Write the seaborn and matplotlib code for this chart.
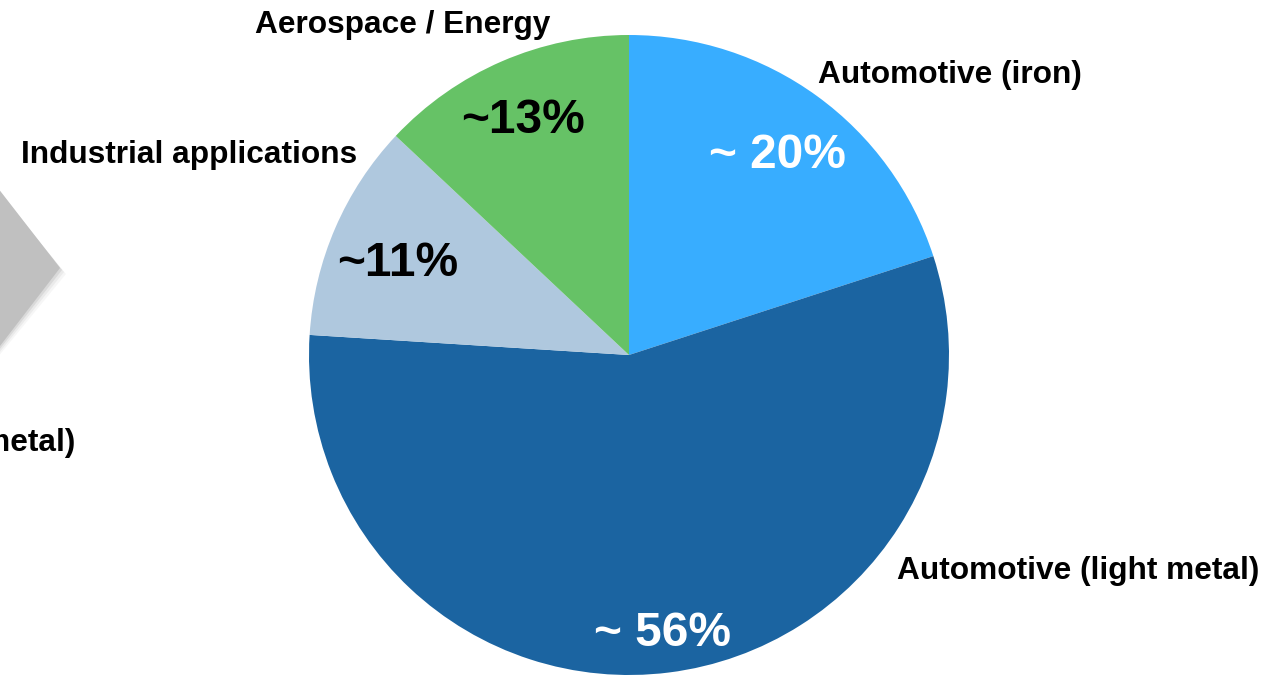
import matplotlib
matplotlib.use("Agg")
import matplotlib.pyplot as plt
import seaborn as sns
from matplotlib.patches import Polygon

sns.set_style("white")
plt.rcParams['font.family'] = ['Liberation Sans', 'DejaVu Sans']

categories = ["Automotive (iron)", "Automotive (light metal)", "Industrial applications", "Aerospace / Energy"]
values = [20, 56, 11, 13]
pct_labels = ["~ 20%", "~ 56%", "~11%", "~13%"]
colors = sns.color_palette(["#38ADFF", "#1B64A1", "#AFC8DE", "#66C266"])
pct_colors = ["white", "white", "black", "black"]

W, H = 1262, 675
fig = plt.figure(figsize=(W / 100, H / 100), dpi=100)
fig.patch.set_facecolor("white")

# pie axes: center (629,355) radius 320 px
cx, cy, r = 629, 355, 320
ax = fig.add_axes([(cx - r) / W, (H - cy - r) / H, 2 * r / W, 2 * r / H])
ax.pie(values, colors=colors, startangle=90, counterclock=False,
       wedgeprops=dict(linewidth=0), radius=1)
ax.set_xlim(-1, 1)
ax.set_ylim(-1, 1)
ax.set_aspect("equal")
ax.axis("off")

# overlay axes in pixel coordinates
ov = fig.add_axes([0, 0, 1, 1], zorder=5)
ov.set_xlim(0, W)
ov.set_ylim(H, 0)
ov.axis("off")
ov.patch.set_alpha(0)

# gray diamond (partially cropped at left edge)
for k, a in [(6, 0.05), (4, 0.08), (2, 0.12)]:
    ov.add_patch(Polygon([(-30, 152 + k), (60 + k, 268 + k), (-30, 385 + k)],
                         closed=True, facecolor="#606060", edgecolor="none", alpha=a))
ov.add_patch(Polygon([(-30, 152), (60, 268), (-30, 385)], closed=True,
                     facecolor="#C0C0C0", edgecolor="none"))

# category labels
label_pos = [(950, 83.5, "center"), (1078, 578.5, "center"),
             (189, 162.5, "center"), (403, 33, "center")]
for name, (x, y, ha) in zip(categories, label_pos):
    ov.text(x, y, name, ha=ha, va="baseline", fontsize=22.8, fontweight="bold", color="black")
# cropped label on left
ov.text(75, 451.5, categories[1], ha="right", va="baseline", fontsize=22.8,
        fontweight="bold", color="black")

# percentage labels
pct_pos = [(777, 168), (663, 646), (398, 276), (523, 133)]
for lab, (x, y), c in zip(pct_labels, pct_pos, pct_colors):
    ov.text(x, y, lab, ha="center", va="baseline", fontsize=34.5, fontweight="bold", color=c)

fig.savefig("out.png", dpi=100, facecolor="white")
